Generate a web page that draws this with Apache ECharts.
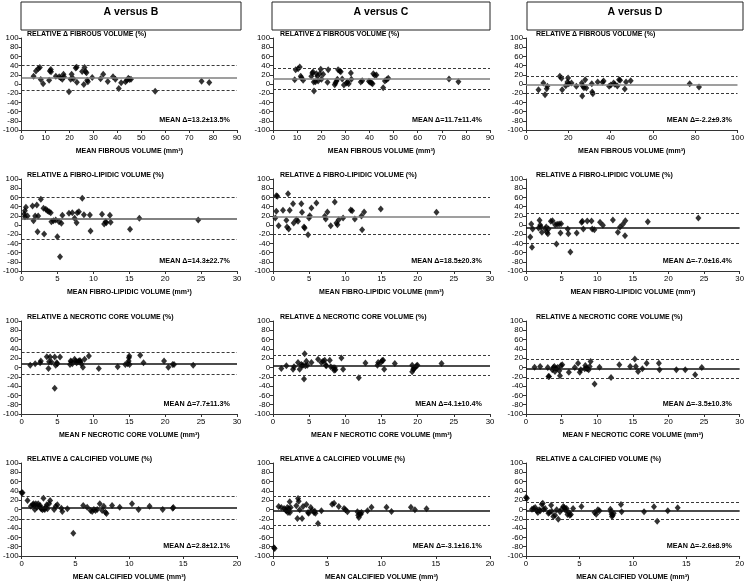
<!DOCTYPE html>
<html><head><meta charset="utf-8">
<script src="https://cdn.jsdelivr.net/npm/echarts@6/dist/echarts.min.js"></script>
<style>html,body{margin:0;padding:0;background:#fff}#c{width:747px;height:582px}</style>
</head><body><div id="c"></div>
<script>
// ---------- DATA ----------
const columnTitles = ['A versus B', 'A versus C', 'A versus D'];
const rowTitles = ['RELATIVE \u0394 FIBROUS VOLUME (%)', 'RELATIVE \u0394 FIBRO-LIPIDIC VOLUME (%)',
  'RELATIVE \u0394 NECROTIC CORE VOLUME (%)', 'RELATIVE \u0394 CALCIFIED VOLUME (%)'];
const xAxisTitles = ['MEAN FIBROUS VOLUME (mm\u00b3)', 'MEAN FIBRO-LIPIDIC VOLUME (mm\u00b3)',
  'MEAN F NECROTIC CORE VOLUME (mm\u00b3)', 'MEAN CALCIFIED VOLUME (mm\u00b3)'];
const meanLabels = ['MEAN \u0394=13.2\u00b113.5%', 'MEAN \u0394=11.7\u00b111.4%', 'MEAN \u0394=-2.2\u00b19.3%',
  'MEAN \u0394=14.3\u00b122.7%', 'MEAN \u0394=18.5\u00b120.3%', 'MEAN \u0394=-7.0\u00b116.4%',
  'MEAN \u0394=7.7\u00b111.3%', 'MEAN \u0394=4.1\u00b110.4%', 'MEAN \u0394=-3.5\u00b110.3%',
  'MEAN \u0394=2.8\u00b112.1%', 'MEAN \u0394=-3.1\u00b116.1%', 'MEAN \u0394=-2.6\u00b18.9%'];
const xMax = [90, 90, 100, 30, 30, 30, 30, 30, 30, 20, 20, 20];
const xInterval = [10, 10, 20, 5, 5, 5, 5, 5, 5, 5, 5, 5];
const yMin = -100, yMax = 100, yInterval = 20;
const meanDelta = [13.2, 11.7, -2.2, 14.3, 18.5, -7.0, 7.7, 4.1, -3.5, 2.8, -3.1, -2.6];
const upperLimit = [40.5, 34, 16, 60, 59.5, 26, 32, 26, 17.5, 28.5, 29, 15];
const lowerLimit = [-13.5, -11, -20.5, -30, -21, -39, -14, -16.3, -24, -21.5, -34, -20];

const fibrousAB = [[5.0,17.0],[6.0,28.5],[7.0,33.6],[7.6,35.7],[8.0,9.7],[9.0,0.4],[11.5,8.3],[11.8,28.5],[12.2,31.4],[12.3,26.4],[14.3,17.0],[15.7,15.5],[16.3,13.4],[17.0,10.5],[17.5,21.3],[17.7,15.5],[19.8,-17.0],[20.5,10.5],[20.9,21.3],[21.6,11.2],[22.6,35.0],[23.0,36.5],[23.1,4.0],[25.3,27.1],[26.0,-1.1],[26.3,35.7],[26.7,27.1],[27.1,24.2],[27.4,8.3],[27.7,4.7],[29.5,14.1],[33.0,11.2],[34.1,21.3],[36.0,5.4],[38.2,15.5],[39.2,10.5],[40.6,-9.7],[41.6,2.5],[43.4,4.7],[44.0,8.3],[44.6,12.6],[45.1,9.7],[45.7,10.5],[55.8,-15.5],[75.2,6.1],[78.4,3.2]];
const fibrousAC = [[9.0,9.4],[9.4,31.2],[10.4,33.3],[11.1,37.0],[11.5,16.7],[11.8,13.8],[12.5,8.0],[15.9,16.7],[16.3,23.9],[16.6,26.1],[16.9,4.3],[17.0,-15.2],[17.6,5.1],[18.0,22.5],[18.4,16.7],[18.7,6.5],[19.4,22.5],[19.8,31.9],[20.1,10.1],[20.8,21.0],[22.6,3.6],[22.9,31.2],[25.6,-1.4],[25.9,2.2],[26.3,5.8],[26.7,10.1],[27.0,31.2],[27.7,28.3],[28.1,26.8],[28.7,10.9],[29.4,-2.2],[30.5,2.2],[30.9,4.3],[31.4,0.7],[32.3,23.9],[32.5,10.1],[36.4,4.3],[37.0,7.2],[39.8,5.8],[40.3,3.6],[40.9,2.2],[41.3,0.7],[41.6,22.5],[42.2,18.8],[42.9,19.6],[45.7,-8.0],[46.4,6.5],[47.1,9.4],[47.8,12.3],[73.0,10.9],[76.9,5.1]];
const fibrousAD = [[5.9,-12.3],[8.2,2.2],[9.0,-23.2],[9.8,-10.1],[10.1,-5.1],[16.0,16.7],[16.8,12.3],[17.1,-12.3],[18.8,-3.6],[19.6,4.3],[19.9,13.0],[20.2,0.7],[21.5,2.2],[23.8,-5.1],[26.4,2.2],[26.6,-26.1],[26.9,-5.1],[27.4,-8.0],[28.0,9.4],[28.5,-8.7],[31.1,0.7],[31.3,-17.4],[31.6,-21.0],[33.9,4.3],[36.2,3.6],[36.7,6.5],[39.3,-5.1],[40.1,-2.2],[41.4,2.2],[42.0,-0.7],[43.2,-4.3],[44.0,9.4],[44.5,8.0],[46.7,-10.9],[47.3,4.3],[49.5,7.2],[77.4,0.7],[81.8,-6.5]];
const lipidAB = [[0.37,23.9],[0.46,31.2],[0.6,38.4],[0.46,18.1],[0.83,19.6],[1.52,41.3],[1.66,9.4],[1.89,19.6],[2.12,43.5],[2.22,-14.5],[2.31,19.6],[2.68,55.8],[3.05,36.2],[3.14,-19.6],[3.37,34.1],[3.6,31.2],[3.83,29.0],[4.06,26.8],[4.15,7.2],[4.43,9.4],[4.75,10.9],[4.98,-25.4],[5.21,7.2],[5.35,-68.8],[5.54,3.6],[5.68,21.0],[6.6,25.4],[7.06,26.8],[7.38,14.5],[7.66,5.1],[7.75,26.8],[7.98,29.0],[8.45,58.0],[8.68,22.5],[9.51,21.7],[9.6,-13.0],[11.2,23.2],[11.5,2.2],[11.7,7.2],[11.8,5.1],[12.3,21.0],[12.4,5.8],[15.1,-9.4],[16.4,14.5],[24.6,10.9]];
const lipidAC = [[0.32,15.2],[0.46,63.8],[0.6,62.3],[0.46,29.7],[0.78,-1.4],[1.38,31.9],[1.85,10.1],[1.94,-4.3],[2.08,68.1],[2.17,-8.7],[2.31,31.9],[2.77,46.4],[2.86,4.3],[3.23,11.6],[3.46,8.0],[3.92,46.4],[4.01,27.5],[4.29,-4.3],[4.38,-6.5],[4.85,-21.0],[4.98,15.2],[5.08,20.3],[5.31,37.0],[6.0,47.8],[7.15,18.8],[7.29,13.0],[7.52,28.3],[7.98,-1.4],[8.54,50.0],[8.77,4.3],[8.91,0.7],[9.09,11.6],[9.69,15.2],[10.75,32.6],[10.94,31.2],[11.31,13.0],[12.23,19.6],[12.32,-10.1],[12.6,28.3],[14.9,34.8],[22.6,27.5]];
const lipidAD = [[0.6,-26],[0.74,2.2],[0.84,-48.6],[0.93,-8.7],[1.77,-6.5],[1.9,10.1],[2.0,0],[2.1,-4.3],[2.23,-15.9],[2.7,-8.7],[2.84,-4.3],[2.93,-15.9],[3.07,-18.8],[3.16,-8.7],[3.49,8.0],[3.72,9.4],[4.09,0.7],[4.28,-41.3],[4.37,1.4],[4.65,2.2],[4.84,-17.4],[4.93,2.9],[5.86,-8.7],[5.95,-18.8],[6.23,-58.7],[7.12,-17.4],[7.81,5.8],[7.91,8.0],[8.05,-8.7],[8.6,8.7],[9.2,8.7],[9.3,-8.7],[9.6,-10.1],[10.4,5.8],[10.8,-0.7],[12.2,10.9],[12.9,-15.9],[13.2,-4.3],[13.6,1.4],[13.9,-23.2],[13.95,9.4],[17.1,7.2],[24.2,15.2]];
const necroticAB = [[1.2,5.1],[1.89,8.0],[2.58,10.2],[2.68,13.8],[3.51,23.3],[3.74,-2.2],[3.83,12.4],[3.97,22.5],[4.15,11.6],[4.61,22.5],[4.75,5.1],[4.89,10.2],[4.98,8.0],[4.61,-44.4],[5.35,22.5],[6.74,6.5],[6.83,13.8],[6.92,12.4],[7.06,8.0],[7.38,17.5],[7.52,13.8],[7.66,10.2],[7.85,12.4],[7.98,13.8],[8.12,15.3],[8.21,12.4],[8.31,8.0],[8.54,0.7],[8.77,17.5],[9.37,24.7],[10.75,-2.2],[13.38,1.5],[14.44,6.5],[14.77,8.0],[14.91,13.8],[14.95,21.1],[15.0,24.7],[15.04,6.5],[16.52,26.2],[16.98,10.2],[19.84,13.8],[20.44,0.7],[21.04,6.5],[21.23,6.5],[23.9,5.1]];
const necroticAC = [[1.15,-2.1],[1.85,3.5],[2.77,-3.5],[2.91,1.4],[3.46,10.6],[3.69,-3.5],[3.92,6.4],[4.01,3.5],[4.15,4.9],[4.29,-24.7],[4.38,29.7],[4.48,3.5],[4.61,13.4],[4.75,4.9],[5.31,10.6],[6.23,17.7],[6.69,10.6],[6.92,13.4],[7.15,15.5],[7.29,4.9],[7.38,3.5],[7.85,15.5],[7.98,1.4],[8.31,-0.7],[8.45,-5.7],[8.54,-0.7],[8.63,-4.9],[9.46,20.5],[9.69,-3.5],[11.86,-21.9],[12.78,9.9],[14.44,4.9],[14.54,10.6],[14.91,10.6],[15.09,14.8],[15.23,15.5],[15.37,-3.5],[16.84,8.5],[19.24,4.9],[19.24,-9.2],[19.38,-3.5],[19.52,-2.1],[19.61,-0.7],[19.84,3.5],[19.98,4.9],[23.3,8.5]];
const necroticAD = [[1.2,0.7],[1.99,2.1],[3.06,0],[3.15,-19.2],[3.24,-19.2],[3.7,-5.0],[3.84,0],[3.98,2.1],[4.07,-8.5],[4.21,-1.4],[4.44,0],[4.68,-7.1],[4.77,-17.8],[4.91,4.3],[5.09,5.7],[6.02,-10.0],[6.85,0],[7.31,9.3],[7.55,-10.0],[7.69,-5.0],[8.24,-2.8],[8.33,4.3],[8.47,-1.4],[8.61,-2.8],[8.8,-5.0],[8.94,2.1],[9.07,12.8],[9.63,-35.6],[10.32,0.7],[11.94,-21.4],[13.1,5.7],[14.63,2.1],[15.28,18.5],[15.42,2.1],[15.74,-8.5],[16.34,-2.8],[16.94,9.3],[18.66,9.3],[18.75,-5.0],[21.11,-5.0],[22.36,-5.0],[23.75,-15.7],[24.68,0]];
const calcifiedAB = [[0,35.8],[0.09,35.8],[0.55,19.4],[0.86,7.2],[1.02,10.0],[1.11,12.2],[1.17,8.6],[1.23,0],[1.32,12.2],[1.42,5.0],[1.54,12.2],[1.63,7.2],[1.72,8.6],[1.78,2.9],[1.85,1.4],[1.94,-0.7],[2.03,24.4],[2.09,1.4],[2.15,0],[2.25,5.0],[2.34,10.0],[2.4,1.4],[2.55,12.2],[2.65,19.4],[3.02,0],[3.17,7.2],[3.32,10.0],[3.69,2.9],[3.78,-4.3],[4.25,1.4],[4.8,-50.9],[5.72,8.6],[6.09,5.0],[6.4,-2.2],[6.55,-4.3],[6.71,0],[6.86,-2.2],[7.02,0],[7.26,12.2],[7.48,-2.2],[7.63,7.2],[7.78,-5.7],[7.88,-8.6],[8.4,8.6],[9.11,5.0],[10.25,12.2],[10.86,0],[11.88,7.2],[13.1,0],[14.03,2.9],[14.09,4.3]];
const calcifiedAC = [[0.09,-82.4],[0.15,-83.9],[0.52,6.5],[0.77,4.3],[1.02,2.2],[1.14,-0.7],[1.23,-2.9],[1.32,4.3],[1.38,-6.5],[1.45,2.2],[1.54,16.5],[1.56,-6.5],[1.63,4.3],[2.15,7.9],[2.25,-19.4],[2.31,23.7],[2.37,17.9],[2.46,-0.7],[2.68,-19.4],[2.77,6.5],[3.08,10.8],[3.23,-6.5],[3.29,-7.9],[3.48,4.3],[3.6,-1.4],[3.78,-6.5],[3.85,-3.6],[3.91,-7.9],[4.46,-2.9],[4.15,-30.1],[5.45,11.5],[5.63,13.6],[6.06,6.5],[6.55,2.2],[6.68,-0.7],[6.86,-5.0],[7.78,-5.0],[7.85,-12.2],[7.91,-17.2],[8.0,-7.9],[8.09,-10.0],[8.15,-6.5],[8.71,-2.9],[9.08,5.0],[10.46,5.0],[10.92,-4.3],[12.71,5.0],[13.08,-0.7],[14.15,1.4]];
const calcifiedAD = [[0,25.8],[0.09,24.4],[0.56,0.7],[0.71,2.2],[0.86,4.3],[1.02,-2.9],[1.11,-6.5],[1.23,-0.7],[1.33,-2.9],[1.48,11.5],[1.57,13.6],[1.64,0.7],[1.79,2.2],[2.1,-7.9],[2.19,-6.5],[2.35,9.3],[2.41,-3.6],[2.56,-15.1],[2.72,-12.2],[2.87,-0.7],[3.02,-20.8],[3.18,-5.0],[3.33,0.7],[3.49,6.5],[3.58,4.3],[3.64,2.2],[3.7,-1.4],[3.8,2.2],[3.89,-10.8],[4.01,-6.5],[4.1,-12.2],[4.2,-10.8],[4.41,2.2],[5.19,6.5],[6.42,-6.5],[6.57,-10.0],[6.73,-0.7],[6.88,-2.9],[7.9,0.7],[7.96,-5.0],[8.02,-10.0],[8.12,-12.2],[8.05,-15.1],[8.21,-7.9],[8.89,10.8],[8.95,-5.0],[11.05,-5.0],[11.98,5.7],[12.28,-25.1],[13.27,-2.9],[14.2,3.6]];

const panels = [fibrousAB, fibrousAC, fibrousAD, lipidAB, lipidAC, lipidAD,
  necroticAB, necroticAC, necroticAD, calcifiedAB, calcifiedAC, calcifiedAD];

// ---------- LAYOUT / STYLE ----------
const colLeft = [21, 273, 526], colWidth = [216, 217, 215];
const rowTop = [38, 179, 321, 463], rowHeight = [92, 92, 93, 93];
const titleOffset = [6, 7, 10];
const meanRight = [230, 482, 732];
const headerBox = [[21, 220], [272, 218], [527, 216]];
const meanLineColor = ['#7f7f7f','#7f7f7f','#7f7f7f','#595959','#7f7f7f','#111','#111','#111','#111','#111','#111','#111'];
const FONT = "'Liberation Sans', Arial, sans-serif";
const axisColor = '#333';

const grids = [], xAxes = [], yAxes = [], series = [], graphics = [];
panels.forEach((pts, i) => {
  const r = Math.floor(i / 3), c = i % 3;
  grids.push({left: colLeft[c], top: rowTop[r], width: colWidth[c], height: rowHeight[r]});
  xAxes.push({
    gridIndex: i, type: 'value', min: 0, max: xMax[i], interval: xInterval[i],
    axisLine: {show: true, onZero: false, lineStyle: {color: axisColor, width: 1}},
    axisTick: {show: true, length: 3, lineStyle: {color: axisColor}},
    axisLabel: {fontSize: 7.8, color: '#000', margin: 4, fontFamily: FONT},
    splitLine: {show: false},
    name: xAxisTitles[r], nameLocation: 'middle', nameGap: 18,
    nameTextStyle: {fontSize: 7, fontWeight: 'bold', color: '#000', fontFamily: FONT}
  });
  yAxes.push({
    gridIndex: i, type: 'value', min: yMin, max: yMax, interval: yInterval,
    axisLine: {show: true, onZero: false, lineStyle: {color: axisColor, width: 1}},
    axisTick: {show: true, length: 3, lineStyle: {color: axisColor}},
    axisLabel: {fontSize: 7.8, color: '#000', margin: 3, fontFamily: FONT},
    splitLine: {show: false}
  });
  series.push({
    type: 'scatter', xAxisIndex: i, yAxisIndex: i, data: pts,
    symbol: 'diamond', symbolSize: [6, 7], itemStyle: {color: '#000'},
    markLine: {
      silent: true, symbol: 'none', label: {show: false}, animation: false,
      data: [
        {yAxis: meanDelta[i], lineStyle: {type: 'solid', color: meanLineColor[i], width: 1.5}},
        {yAxis: upperLimit[i], lineStyle: {type: [3, 2], color: '#3a3a3a', width: 1}},
        {yAxis: lowerLimit[i], lineStyle: {type: [3, 2], color: '#3a3a3a', width: 1}}
      ]
    }
  });
  graphics.push({
    type: 'text', left: colLeft[c] + titleOffset[c], top: rowTop[r] - 7.5,
    style: {text: rowTitles[r], font: 'bold 7px ' + FONT, fill: '#000'}
  });
  graphics.push({
    type: 'text', x: meanRight[c], y: rowTop[r] + rowHeight[r] - 10,
    style: {text: meanLabels[i], font: 'bold 7.2px ' + FONT, fill: '#000', align: 'right', verticalAlign: 'middle'}
  });
});
columnTitles.forEach((t, c) => {
  graphics.push({type: 'rect', shape: {x: headerBox[c][0], y: 2, width: headerBox[c][1], height: 28},
    style: {fill: '#fff', stroke: '#222', lineWidth: 1}});
  graphics.push({type: 'text', x: headerBox[c][0] + headerBox[c][1] / 2, y: 12.5,
    style: {text: t, font: 'bold 10.5px ' + FONT, fill: '#000', align: 'center', verticalAlign: 'middle'}});
});

const chart = echarts.init(document.getElementById('c'), null, {renderer: 'canvas'});
chart.setOption({
  animation: false, backgroundColor: '#fff',
  grid: grids, xAxis: xAxes, yAxis: yAxes, series: series, graphic: graphics
});
</script></body></html>
